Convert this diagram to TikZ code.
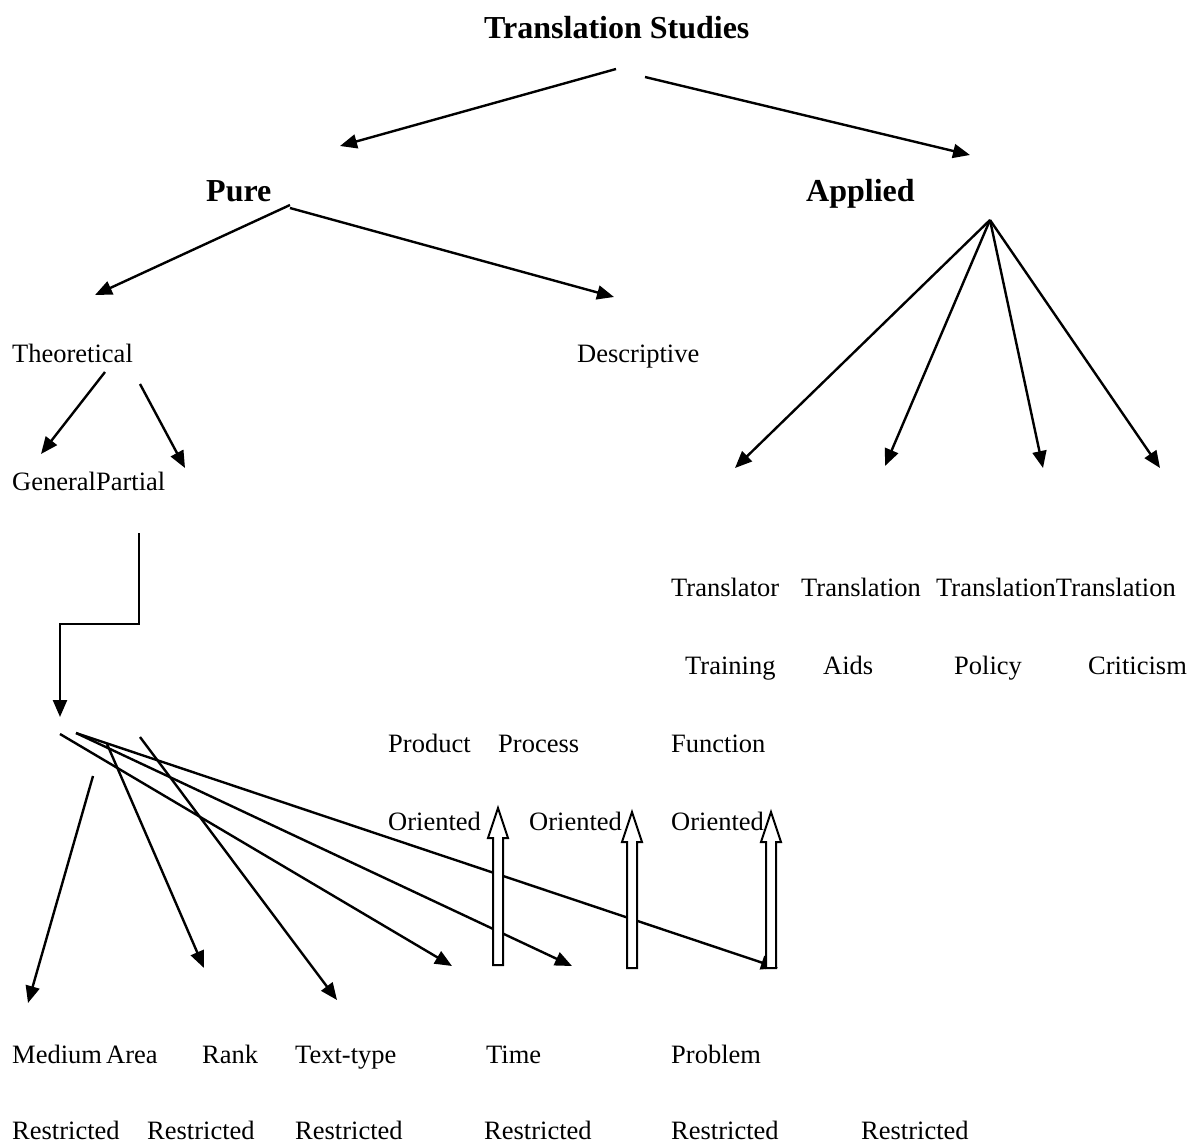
\documentclass[tikz,border=0pt]{standalone}
\usepackage{fontspec}
\setmainfont{Liberation Serif}
\usetikzlibrary{arrows.meta}
\begin{document}
\begin{tikzpicture}[x=1pt,y=-1pt,
  lbl/.style={anchor=base west,inner sep=0pt,font=\fontsize{26.5}{30}\selectfont},
  head/.style={anchor=base west,inner sep=0pt,font=\fontsize{32}{36}\selectfont\bfseries},
  link/.style={line width=2.4pt,-{Triangle[length=17pt,width=14pt]}},
  hollow/.style={draw,line width=2pt,fill=white,line join=miter}]
\useasboundingbox (0,0) rectangle (1194,1144);

% headings
\node[head] (ts) at (484,38) {Translation Studies};
\node[head] (pure) at (206,201) {Pure};
\node[head] (applied) at (806,201) {Applied};

% pure branch
\node[lbl] (theo) at (12,362) {Theoretical};
\node[lbl] (desc) at (577,362) {Descriptive};
\node[lbl] (genpart) at (12,490) {GeneralPartial};

% applied branch
\node[lbl] (tr1) at (671,596) {Translator};
\node[lbl] (tr2) at (801,596) {Translation};
\node[lbl] (tr3) at (936,596) {TranslationTranslation};
\node[lbl] (trn) at (685,674) {Training};
\node[lbl] (aids) at (823,674) {Aids};
\node[lbl] (pol) at (954,674) {Policy};
\node[lbl] (crit) at (1088,674) {Criticism};

% orientation labels
\node[lbl] (prod) at (388,752) {Product};
\node[lbl] (proc) at (498,752) {Process};
\node[lbl] (func) at (671,752) {Function};
\node[lbl] (or1) at (388,830) {Oriented};
\node[lbl] (or2) at (529,830) {Oriented};
\node[lbl] (or3) at (671,830) {Oriented};

% restriction labels
\node[lbl] (med) at (12,1063) {Medium};
\node[lbl] (area) at (106,1063) {Area};
\node[lbl] (rank) at (202,1063) {Rank};
\node[lbl] (ttype) at (295,1063) {Text-type};
\node[lbl] (time) at (486,1063) {Time};
\node[lbl] (prob) at (671,1063) {Problem};
\node[lbl] (r1) at (12,1139) {Restricted};
\node[lbl] (r2) at (147,1139) {Restricted};
\node[lbl] (r3) at (295,1139) {Restricted};
\node[lbl] (r4) at (484,1139) {Restricted};
\node[lbl] (r5) at (671,1139) {Restricted};
\node[lbl] (r6) at (861,1139) {Restricted};

% connector end points
\coordinate (tsL) at (616,69);   \coordinate (tsLe) at (340,146);
\coordinate (tsR) at (645,77);   \coordinate (tsRe) at (970,155);
\coordinate (puL) at (290,205);  \coordinate (puLe) at (95,295);
\coordinate (puR) at (290,208);  \coordinate (puRe) at (614,297);
\coordinate (ap) at (990,220);
\coordinate (ap1) at (735,468);  \coordinate (ap2) at (885,466);
\coordinate (ap3) at (1043,468); \coordinate (ap4) at (1160,468);
\coordinate (thA) at (105,372);  \coordinate (thAe) at (41,454);
\coordinate (thB) at (140,384);  \coordinate (thBe) at (185,468);
\coordinate (gp) at (139,533);   \coordinate (gpe) at (60,717);
\coordinate (f1) at (60,734);    \coordinate (f1e) at (452,966);
\coordinate (f2) at (76,733);    \coordinate (f2e) at (572,966);
\coordinate (f3) at (76,733);    \coordinate (f3e) at (778,968);
\coordinate (f4) at (93,776);    \coordinate (f4e) at (28,1003);
\coordinate (f5) at (107,744);   \coordinate (f5e) at (204,968);
\coordinate (f6) at (140,737);   \coordinate (f6e) at (337,1000);

% tree connectors
\draw[link] (tsL) -- (tsLe);
\draw[link] (tsR) -- (tsRe);
\draw[link] (puL) -- (puLe);
\draw[link] (puR) -- (puRe);
\foreach \e in {ap1,ap2,ap3,ap4} \draw[link] (ap) -- (\e);
\draw[link] (thA) -- (thAe);
\draw[link] (thB) -- (thBe);
\draw[link] (gp) |- (100,624) -| (gpe);
\draw[link] (f1) -- (f1e);
\draw[link] (f2) -- (f2e);
\draw[link] (f3) -- (f3e);
\draw[link] (f4) -- (f4e);
\draw[link] (f5) -- (f5e);
\draw[link] (f6) -- (f6e);

% hollow block arrows pointing up to the orientation labels
\foreach \x/\b/\t in {498/965/808, 632/968/812, 771/968/812}{
  \draw[hollow] (\x-5,\b) -- (\x-5,\t+30) -- (\x-10,\t+30) -- (\x,\t)
    -- (\x+10,\t+30) -- (\x+5,\t+30) -- (\x+5,\b) -- cycle;
}
\end{tikzpicture}
\end{document}
